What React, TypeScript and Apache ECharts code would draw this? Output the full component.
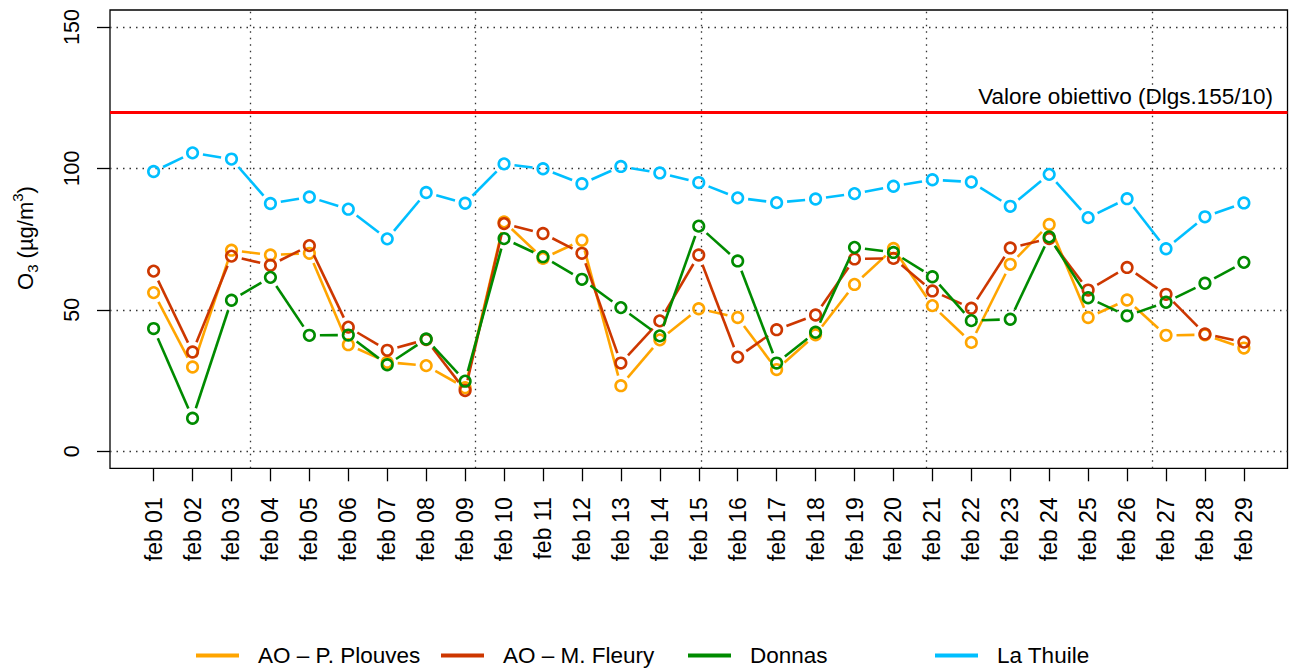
import React, { useEffect, useRef } from "react";
import * as echarts from "echarts";

const categories = [
  "feb 01", "feb 02", "feb 03", "feb 04", "feb 05", "feb 06", "feb 07", "feb 08", "feb 09", "feb 10",
  "feb 11", "feb 12", "feb 13", "feb 14", "feb 15", "feb 16", "feb 17", "feb 18", "feb 19", "feb 20",
  "feb 21", "feb 22", "feb 23", "feb 24", "feb 25", "feb 26", "feb 27", "feb 28", "feb 29",
];

const plouves = [56.1, 29.8, 71.1, 69.4, 70.0, 37.7, 31.5, 30.3, 22.5, 81.1, 68.2, 74.6, 23.2, 39.4, 50.4, 47.3, 28.9, 41.2, 59.0, 71.7, 51.5, 38.5, 66.1, 80.2, 47.3, 53.5, 41.0, 41.2, 36.5];
const fleury = [63.7, 35.1, 69.0, 65.8, 72.7, 43.9, 35.7, 39.5, 21.5, 80.5, 77.0, 70.0, 31.2, 46.1, 69.4, 33.3, 43.0, 48.2, 68.0, 68.2, 56.7, 50.6, 71.9, 75.2, 57.0, 65.0, 55.5, 41.5, 38.6];
const donnas = [43.4, 11.7, 53.4, 61.5, 41.0, 41.1, 30.6, 39.7, 24.8, 75.2, 68.8, 60.8, 50.8, 40.8, 79.6, 67.3, 31.2, 42.1, 72.1, 70.3, 61.7, 46.2, 46.7, 75.8, 54.3, 47.9, 52.7, 59.4, 66.8];
const laThuile = [98.9, 105.5, 103.3, 87.6, 89.9, 85.6, 75.1, 91.5, 87.7, 101.6, 99.9, 94.6, 100.7, 98.4, 95.0, 89.6, 87.9, 89.2, 91.1, 93.7, 96.0, 95.2, 86.6, 97.9, 82.6, 89.3, 71.6, 82.9, 87.8];

const seriesNames = ["AO – P. Plouves", "AO – M. Fleury", "Donnas", "La Thuile"];
const seriesColors = ["#FFA500", "#CD3700", "#008B00", "#00BFFF"];
const seriesValues = [plouves, fleury, donnas, laThuile];

const yTicks = [0, 50, 100, 150];
const vGrid = [2.48, 8.27, 14.06, 19.85, 25.64];
const targetValue = 120;
const targetLabel = "Valore obiettivo (Dlgs.155/10)";

const FONT = "'Liberation Sans', Arial, Helvetica, sans-serif";
const GAP = 10.5;
const LW = 2.6;

export default function App() {
  const ref = useRef<HTMLDivElement>(null);

  useEffect(() => {
    if (!ref.current) return;
    const chart = echarts.init(ref.current, null, { renderer: "svg" });
    const idx = categories.map((_, i) => i);

    const stationSeries = seriesValues.map((vals, k) => {
      const color = seriesColors[k];
      return {
        type: "custom",
        name: seriesNames[k],
        coordinateSystem: "cartesian2d",
        itemStyle: { color },
        encode: { x: 0, y: 1 },
        z: 5 + k,
        silent: true,
        data: vals.map((v, i) => [i, v, i < vals.length - 1 ? vals[i + 1] : null]),
        renderItem: (params: any, api: any) => {
          const i = api.value(0);
          const v = api.value(1);
          const nv = api.value(2);
          const p = api.coord([i, v]);
          const children: any[] = [];
          if (nv !== null && nv !== undefined && !isNaN(nv)) {
            const q = api.coord([i + 1, nv]);
            const dx = q[0] - p[0];
            const dy = q[1] - p[1];
            const len = Math.hypot(dx, dy);
            if (len > 2 * GAP) {
              const ux = dx / len;
              const uy = dy / len;
              children.push({
                type: "line",
                shape: { x1: p[0] + ux * GAP, y1: p[1] + uy * GAP, x2: q[0] - ux * GAP, y2: q[1] - uy * GAP },
                style: { stroke: color, lineWidth: LW, fill: null },
              });
            }
          }
          children.push({
            type: "circle",
            shape: { cx: p[0], cy: p[1], r: 5.3 },
            style: { fill: "none", stroke: color, lineWidth: LW },
          });
          return { type: "group", children };
        },
      };
    });

    const legendLefts = [196, 441, 688, 935];

    chart.setOption({
      animation: false,
      backgroundColor: "#fff",
      textStyle: { fontFamily: FONT },
      grid: {
        left: 110,
        right: 1.5,
        top: 10,
        bottom: 201.7,
        show: true,
        borderColor: "#000",
        borderWidth: 1.3,
        backgroundColor: "transparent",
      },
      xAxis: {
        type: "value",
        min: -1.12,
        max: 29.12,
        axisLine: { show: false, onZero: false },
        splitLine: { show: false },
        axisTick: {
          show: true,
          length: 13,
          customValues: idx,
          lineStyle: { color: "#000", width: 1.3 },
        },
        axisLabel: {
          show: true,
          rotate: 90,
          margin: 29,
          fontSize: 23,
          color: "#000",
          fontFamily: FONT,
          customValues: idx,
          formatter: (v: number) => categories[Math.round(v)] ?? "",
        },
      },
      yAxis: {
        type: "value",
        min: -6,
        max: 156,
        axisLine: { show: false, onZero: false },
        splitLine: { show: false },
        axisTick: {
          show: true,
          length: 13,
          customValues: yTicks,
          lineStyle: { color: "#000", width: 1.3 },
        },
        axisLabel: {
          show: true,
          rotate: 90,
          margin: 27,
          fontSize: 21.5,
          color: "#000",
          fontFamily: FONT,
          customValues: yTicks,
        },
      },
      legend: seriesNames.map((n, k) => ({
        data: [{ name: n, icon: "rect" }],
        left: legendLefts[k],
        top: 644,
        padding: 0,
        itemWidth: 43,
        itemHeight: 4,
        selectedMode: false,
        textStyle: { fontSize: 22.5, color: "#000", fontFamily: FONT, padding: [0, 0, 0, 14] },
      })),
      graphic: [
        {
          type: "text",
          x: 25,
          y: 238,
          rotation: Math.PI / 2,
          style: {
            text: "{a|O}{s|3}{a| (µg/m}{p|3}{a|)}",
            align: "center",
            verticalAlign: "middle",
            fontFamily: FONT,
            rich: {
              a: { fontSize: 22, lineHeight: 30, verticalAlign: "middle", fontFamily: FONT, fill: "#000" },
              s: { fontSize: 15, lineHeight: 16, verticalAlign: "bottom", fontFamily: FONT, fill: "#000" },
              p: { fontSize: 15, lineHeight: 16, verticalAlign: "top", fontFamily: FONT, fill: "#000" },
            },
          },
        },
        {
          type: "text",
          x: 1273,
          y: 96.5,
          style: {
            text: targetLabel,
            align: "right",
            verticalAlign: "middle",
            fontSize: 22.5,
            fontFamily: FONT,
            fill: "#000",
          },
        },
      ],
      series: [
        {
          type: "line",
          name: "grid",
          data: [],
          silent: true,
          z: 1,
          markLine: {
            silent: true,
            symbol: "none",
            animation: false,
            label: { show: false },
            lineStyle: { color: "#333", width: 1.3, type: [1.5, 5] },
            data: [
              ...yTicks.map((y) => ({ yAxis: y })),
              ...vGrid.map((x) => ({ xAxis: x })),
            ],
          },
        },
        {
          type: "line",
          name: "target",
          data: [],
          silent: true,
          z: 2,
          markLine: {
            silent: true,
            symbol: "none",
            animation: false,
            label: { show: false },
            lineStyle: { color: "#FF0000", width: 3, type: "solid" },
            data: [{ yAxis: targetValue }],
          },
        },
        ...stationSeries,
      ],
    });

    return () => chart.dispose();
  }, []);

  return (
    <div
      ref={ref}
      style={{ position: "absolute", left: 0, top: 0, width: 1289, height: 670 }}
    />
  );
}
